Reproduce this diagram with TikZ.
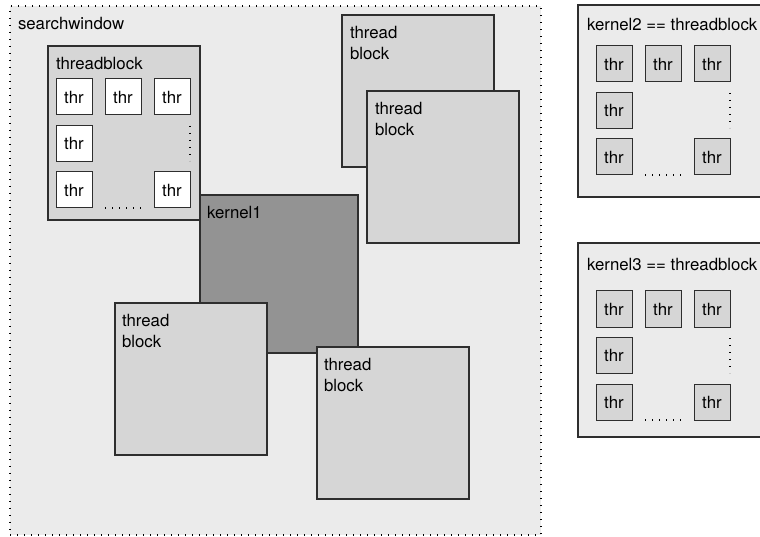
\documentclass[tikz,border=0pt]{standalone}
\usepackage{fontspec}
\setmainfont{TeX Gyre Heros}
\usepackage{tikz}
\usetikzlibrary{positioning}
\definecolor{winfill}{HTML}{EBEBEB}
\definecolor{blockfill}{HTML}{D6D6D6}
\definecolor{kernelfill}{HTML}{939393}
\definecolor{edge}{HTML}{2E2E2E}
\tikzstyle{window} = [rectangle, draw=black, fill=winfill, line width=1.3pt, dash pattern=on 1.3pt off 5.7pt, anchor=north west, inner sep=0pt, outer sep=0pt]
\tikzstyle{block} = [rectangle, draw=edge, fill=blockfill, line width=1.4pt, minimum width=152pt, minimum height=152pt, anchor=north west, inner sep=0pt, outer sep=0pt]
\tikzstyle{kernel} = [block, fill=kernelfill, minimum width=158pt, minimum height=158pt]
\tikzstyle{panel} = [block, fill=winfill, minimum width=220pt]
\tikzstyle{lbl} = [inner sep=0pt, outer sep=0pt, align=left, font=\fontsize{16.8}{21}\selectfont]
\tikzstyle{thr} = [rectangle, draw=edge, fill=white, line width=1pt, minimum width=36pt, minimum height=36pt, inner sep=0pt, outer sep=0pt, font=\fontsize{16.8}{21}\selectfont]
\tikzstyle{thrg} = [thr, fill=blockfill]
\tikzstyle{dots} = [line width=1.3pt, dash pattern=on 1.3pt off 5.7pt]

\begin{document}
\begin{tikzpicture}[x=1pt, y=-1pt]
    \useasboundingbox (0,0) rectangle (760,537);
    \clip (0,0) rectangle (760,537);
    % search window with the blocks of kernel1
    \node (sw) [window, minimum width=531pt, minimum height=529pt] at (10,6) {};
    \node (sw_lbl) [lbl, below right=11pt and 8pt of sw.north west] {searchwindow};
    \node (tb) [block, minimum height=174pt] at (48,46) {};
    \node (tb_lbl) [lbl, below right=11pt and 8pt of tb.north west] {threadblock};
    \node (t11) [thr, below right=33pt and 8pt of tb.north west] {thr};
    \node (t12) [thr, right=13pt of t11] {thr};
    \node (t13) [thr, right=13pt of t12] {thr};
    \node (t21) [thr, below=10.5pt of t11] {thr};
    \node (t31) [thr, below=10.5pt of t21] {thr};
    \node (t33) [thr, right=62pt of t31] {thr};
    \draw [dots] ([yshift=-11pt]t13.south east) -- ([yshift=11pt]t33.north east);
    \draw [dots] ([xshift=13pt]t31.south east) -- ([xshift=-13pt]t33.south west);
    \node (tbA) [block] at (342,15) {};
    \node (tbA_lbl) [lbl, below right=11pt and 8pt of tbA.north west] {thread\\block};
    \node (tbB) [block] at (367,91) {};
    \node (tbB_lbl) [lbl, below right=11pt and 8pt of tbB.north west] {thread\\block};
    \node (k1) [kernel] at (200,195) {};
    \node (k1_lbl) [lbl, below right=11pt and 7pt of k1.north west] {kernel1};
    \node (tbC) [block] at (115,303) {};
    \node (tbC_lbl) [lbl, below right=11pt and 7pt of tbC.north west] {thread\\block};
    \node (tbD) [block] at (317,347) {};
    \node (tbD_lbl) [lbl, below right=11pt and 7pt of tbD.north west] {thread\\block};
    % kernel2
    \node (k2) [panel, minimum height=192pt] at (578,5) {};
    \node (k2_lbl) [lbl, below right=13pt and 9pt of k2.north west] {kernel2 == threadblock};
    \node (k2t11) [thrg, below right=41pt and 18pt of k2.north west] {thr};
    \node (k2t12) [thrg, right=13pt of k2t11] {thr};
    \node (k2t13) [thrg, right=13pt of k2t12] {thr};
    \node (k2t21) [thrg, below=10.5pt of k2t11] {thr};
    \node (k2t31) [thrg, below=10.5pt of k2t21] {thr};
    \node (k2t33) [thrg, right=62pt of k2t31] {thr};
    \draw [dots] ([yshift=-11pt]k2t13.south east) -- ([yshift=11pt]k2t33.north east);
    \draw [dots] ([xshift=13pt]k2t31.south east) -- ([xshift=-13pt]k2t33.south west);
    % kernel3
    \node (k3) [panel, minimum height=194pt] at (578,243) {};
    \node (k3_lbl) [lbl, below right=15pt and 9pt of k3.north west] {kernel3 == threadblock};
    \node (k3t11) [thrg, below right=48pt and 18pt of k3.north west] {thr};
    \node (k3t12) [thrg, right=13pt of k3t11] {thr};
    \node (k3t13) [thrg, right=13pt of k3t12] {thr};
    \node (k3t21) [thrg, below=10.5pt of k3t11] {thr};
    \node (k3t31) [thrg, below=10.5pt of k3t21] {thr};
    \node (k3t33) [thrg, right=62pt of k3t31] {thr};
    \draw [dots] ([yshift=-11pt]k3t13.south east) -- ([yshift=11pt]k3t33.north east);
    \draw [dots] ([xshift=13pt]k3t31.south east) -- ([xshift=-13pt]k3t33.south west);
\end{tikzpicture}
\end{document}
